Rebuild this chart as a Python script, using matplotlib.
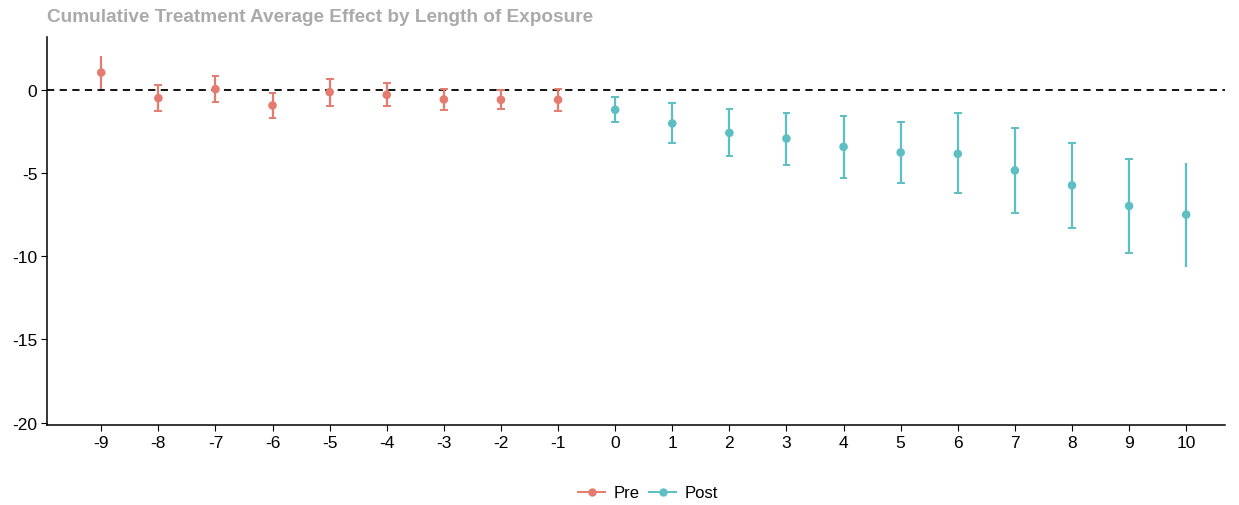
import matplotlib.pyplot as plt
from matplotlib.lines import Line2D

# ---- data ----
pre_t = [-9, -8, -7, -6, -5, -4, -3, -2, -1]
pre_est = [1.06, -0.48, 0.06, -0.92, -0.12, -0.28, -0.56, -0.58, -0.58]
pre_lo = [0.05, -1.28, -0.72, -1.68, -0.94, -0.96, -1.20, -1.16, -1.28]
pre_hi = [2.05, 0.32, 0.86, -0.16, 0.70, 0.44, 0.06, 0.02, 0.10]

post_t = [0, 1, 2, 3, 4, 5, 6, 7, 8, 9, 10]
post_est = [-1.18, -2.00, -2.57, -2.91, -3.41, -3.75, -3.83, -4.83, -5.73, -6.97, -7.49]
post_lo = [-1.94, -3.15, -3.97, -4.49, -5.27, -5.59, -6.21, -7.41, -8.31, -9.78, -10.62]
post_hi = [-0.40, -0.80, -1.16, -1.36, -1.54, -1.90, -1.40, -2.28, -3.16, -4.13, -4.37]

y_ticks = [0, -5, -10, -15, -20]

PRE_COL = "#E57A6E"
POST_COL = "#5BBFC3"

plt.rcParams["font.family"] = ["Liberation Sans", "DejaVu Sans"]
plt.rcParams["axes.unicode_minus"] = False

fig = plt.figure(figsize=(12.39, 5.06), dpi=100)
ax = fig.add_axes([47 / 1239, 1 - 426 / 506, (1225 - 47) / 1239, (426 - 38) / 506])


def draw(ts, est, lo, hi, col):
    for t, e, l, h in zip(ts, est, lo, hi):
        ax.plot([t, t], [l, h], color=col, lw=1.6, solid_capstyle="butt", zorder=2)
        # end points have no caps in the reference
        if t not in (-9, 10):
            for yv in (l, h):
                ax.plot([t - 0.05, t + 0.05], [yv, yv], color=col, lw=1.4, zorder=2)
    ax.scatter(ts, est, s=38, color=col, zorder=3, edgecolors="none")


draw(pre_t, pre_est, pre_lo, pre_hi, PRE_COL)
draw(post_t, post_est, post_lo, post_hi, POST_COL)

ax.axhline(0, color="black", lw=1.3, ls=(0, (4, 3)), zorder=1)

ax.set_xlim(-9.95, 10.68)
ax.set_ylim(-20.15, 3.2)
ax.set_xticks(pre_t + post_t)
ax.set_yticks(y_ticks)
ax.tick_params(labelsize=12.5, length=4, width=0.8, colors="black", pad=3)

for side in ("top", "right"):
    ax.spines[side].set_visible(False)
for side in ("left", "bottom"):
    ax.spines[side].set_linewidth(1.1)

fig.text(47 / 1239, 1 - 18 / 506, "Cumulative Treatment Average Effect by Length of Exposure",
         color="#AAAAAA", fontsize=13.7, fontweight="bold", va="center", ha="left")

handles = [
    Line2D([], [], color=PRE_COL, marker="o", markersize=5, lw=1.4, label="Pre"),
    Line2D([], [], color=POST_COL, marker="o", markersize=5, lw=1.4, label="Post"),
]
fig.legend(handles=handles, loc="center", bbox_to_anchor=(648 / 1239, 1 - 494 / 506),
           ncol=2, frameon=False, fontsize=12, handlelength=1.6, columnspacing=0.6,
           handletextpad=0.5)

fig.savefig("out.png", dpi=100)
